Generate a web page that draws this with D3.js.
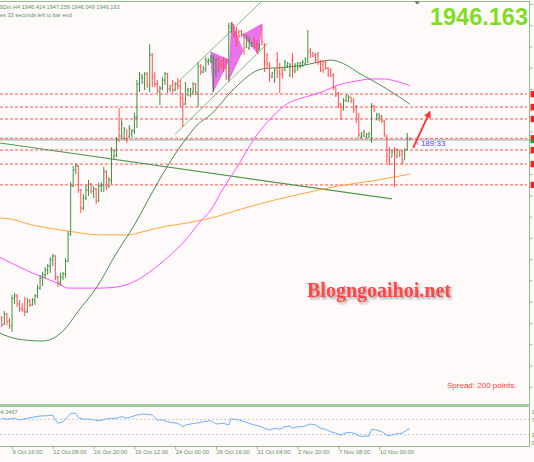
<!DOCTYPE html>
<html>
<head>
<meta charset="utf-8">
<script src="https://cdn.jsdelivr.net/npm/d3@7"></script>
<style>
  html, body { margin: 0; padding: 0; background: #fffafa; }
  svg { display: block; }
</style>
</head>
<body>
<div id="wrapper"></div>
<script>
// H4 bars, [open, high, low, close]
const bars = [
  [1862.3,1863.3,1858.1,1859.0],[1859.5,1865.6,1859.0,1864.2],[1864.2,1864.7,1859.0,1860.5],[1860.9,1862.3,1857.2,1858.6],
  [1858.6,1873.2,1855.8,1871.7],[1871.7,1874.1,1868.9,1872.7],[1872.7,1873.6,1867.5,1868.9],[1868.9,1870.8,1865.2,1866.6],
  [1867.0,1869.4,1865.2,1866.1],[1866.1,1872.2,1863.3,1865.2],[1865.2,1871.7,1864.7,1870.3],[1870.3,1871.3,1867.5,1868.5],
  [1868.5,1871.7,1868.0,1870.8],[1870.8,1873.6,1868.5,1872.7],[1872.7,1877.9,1871.7,1876.4],[1876.4,1882.6,1875.5,1881.1],
  [1881.1,1884.0,1877.4,1882.6],[1882.6,1886.3,1880.7,1884.9],[1884.9,1887.7,1882.6,1886.8],[1886.8,1891.0,1883.5,1889.6],
  [1889.6,1892.4,1886.8,1891.5],[1891.5,1891.9,1880.2,1881.6],[1881.6,1882.1,1876.9,1878.8],[1878.8,1883.5,1877.4,1881.6],
  [1881.6,1884.0,1880.2,1883.0],[1883.0,1890.5,1881.1,1889.1],[1889.1,1903.2,1888.7,1901.8],[1901.8,1926.3,1900.9,1924.4],
  [1924.4,1933.8,1923.9,1931.9],[1931.9,1935.2,1930.0,1933.8],[1933.8,1934.3,1921.1,1922.5],[1922.5,1923.0,1911.7,1914.0],
  [1914.0,1920.6,1913.1,1918.7],[1918.7,1924.9,1917.8,1922.5],[1922.5,1927.2,1919.7,1925.3],[1925.3,1925.8,1920.6,1922.0],
  [1922.0,1924.4,1918.7,1923.0],[1923.0,1923.4,1915.9,1917.3],[1917.3,1925.8,1916.9,1924.4],[1924.4,1926.3,1921.6,1924.9],
  [1924.9,1933.3,1921.6,1931.0],[1931.0,1931.9,1922.5,1924.4],[1924.4,1928.6,1923.4,1927.2],[1927.2,1942.7,1925.3,1941.3],
  [1938.5,1941.8,1936.6,1940.8],[1939.0,1947.4,1938.0,1946.0],[1951.6,1961.0,1945.1,1947.9],[1947.9,1955.4,1946.9,1953.5],
  [1946.9,1952.1,1946.0,1951.2],[1950.7,1950.7,1944.6,1946.0],[1947.4,1953.1,1946.9,1951.6],[1948.8,1951.2,1947.4,1950.2],
  [1950.2,1958.7,1948.8,1956.8],[1956.8,1974.2,1951.6,1972.3],[1972.3,1978.0,1968.6,1976.6],[1975.1,1977.0,1972.3,1975.6],
  [1973.3,1978.0,1969.5,1977.0],[1977.0,1978.0,1970.4,1972.3],[1971.4,1991.1,1968.6,1986.0],[1986.0,1986.9,1970.9,1975.1],
  [1976.1,1978.0,1970.9,1972.3],[1972.3,1974.2,1968.1,1969.5],[1968.6,1971.4,1962.5,1970.4],[1970.4,1975.6,1969.5,1974.2],
  [1974.2,1978.0,1971.9,1977.0],[1977.0,1977.5,1968.1,1970.0],[1970.0,1971.9,1968.6,1971.4],[1971.9,1974.2,1968.1,1969.5],
  [1969.5,1973.3,1969.0,1972.3],[1972.3,1975.1,1969.5,1971.4],[1971.4,1974.2,1961.5,1965.7],[1965.7,1968.1,1952.1,1962.9],
  [1962.9,1973.3,1962.5,1971.4],[1969.5,1970.4,1966.7,1970.0],[1967.2,1970.4,1966.2,1970.0],[1968.6,1973.3,1967.2,1972.3],
  [1972.3,1972.8,1967.2,1968.6],[1967.6,1982.7,1961.5,1980.8],[1980.8,1981.7,1976.6,1978.0],[1978.0,1980.8,1977.5,1979.8],
  [1978.9,1985.0,1978.0,1983.6],[1982.7,1984.5,1981.3,1983.6],[1983.1,1986.0,1982.2,1985.0],[1982.7,1986.0,1968.6,1983.6],
  [1978.0,1984.5,1975.6,1983.6],[1984.5,1985.0,1978.0,1979.8],[1982.7,1983.6,1979.8,1980.8],[1983.6,1985.0,1978.0,1979.8],
  [1979.8,1984.5,1974.2,1976.1],[1975.1,2001.0,1973.3,1999.6],[1998.6,2001.5,1996.3,2000.5],[2000.1,2000.5,1994.4,1995.8],
  [1996.3,1999.1,1989.7,1992.1],[1996.8,1997.7,1993.9,1994.9],[1997.2,1997.7,1994.4,1995.3],[1994.9,1996.3,1986.0,1989.2],
  [1989.7,1995.3,1989.2,1993.9],[1989.2,1994.4,1988.3,1993.0],[1990.2,1992.1,1989.7,1991.6],[1993.0,1993.9,1989.2,1990.2],
  [1991.6,1993.0,1986.9,1988.3],[1988.8,1991.6,1988.3,1990.6],[1993.9,2000.1,1990.6,1992.1],[1990.6,1991.6,1978.0,1982.7],
  [1986.0,1986.9,1979.8,1981.7],[1980.8,1982.7,1973.3,1976.1],[1975.6,1978.0,1975.1,1977.5],[1974.2,1979.8,1972.8,1978.9],
  [1983.6,1987.4,1975.1,1978.0],[1979.8,1982.2,1968.1,1977.0],[1978.9,1979.8,1975.1,1976.6],[1978.9,1983.6,1978.4,1982.7],
  [1980.8,1982.7,1979.8,1982.2],[1976.6,1982.2,1975.6,1981.3],[1983.6,1986.9,1975.1,1978.9],[1978.0,1982.2,1977.5,1981.3],
  [1978.9,1982.7,1978.9,1982.2],[1980.3,1982.7,1979.8,1982.2],[1980.8,1983.6,1980.3,1982.7],[1981.7,1985.0,1981.3,1984.1],
  [1982.7,1997.7,1982.2,1987.4],[1988.3,1989.2,1984.5,1986.0],[1986.9,1987.4,1985.0,1985.5],[1986.0,1986.9,1982.2,1983.6],
  [1986.4,1987.4,1981.3,1982.7],[1982.7,1983.6,1978.0,1978.9],[1981.7,1983.6,1977.5,1978.9],[1982.7,1983.6,1978.9,1979.8],
  [1979.8,1980.3,1975.6,1976.6],[1978.9,1979.8,1975.6,1976.1],[1976.6,1977.5,1969.5,1970.9],[1970.9,1970.9,1966.2,1967.2],
  [1968.1,1968.6,1961.0,1962.9],[1962.9,1963.4,1955.4,1957.3],[1960.1,1965.7,1960.1,1964.8],[1964.3,1967.2,1963.9,1966.7],
  [1964.3,1967.2,1963.9,1966.2],[1966.2,1966.2,1963.4,1964.3],[1965.3,1965.7,1958.7,1960.1],[1961.5,1962.5,1954.0,1956.3],
  [1957.8,1958.7,1946.9,1948.4],[1947.4,1949.8,1946.9,1948.8],[1947.9,1950.7,1947.4,1949.8],[1947.4,1949.3,1946.9,1948.8],
  [1947.4,1949.8,1946.9,1948.8],[1946.0,1963.4,1944.6,1962.0],[1962.0,1962.5,1959.2,1960.1],[1955.4,1958.7,1955.4,1957.8],
  [1956.3,1958.7,1954.9,1957.3],[1957.3,1957.8,1954.0,1954.9],[1954.9,1955.4,1947.4,1948.8],[1947.9,1948.4,1935.2,1938.5],
  [1941.3,1942.7,1934.3,1936.6],[1938.0,1941.3,1938.0,1940.4],[1941.3,1942.7,1923.9,1939.0],[1938.0,1942.2,1937.5,1941.3],
  [1941.3,1941.3,1938.0,1939.0],[1940.4,1941.3,1934.3,1935.7],[1936.6,1942.2,1936.6,1941.3],[1941.3,1949.3,1941.3,1947.4],
  [1946.414,1947.259,1946.049,1946.163]
];

// moving averages, [bar index, price]
const maSlow = [[-1,1909.1],[0,1909.3],[13,1905.8],[26,1903.2],[39,1901.4],[50,1901.4],[55,1902.8],[65,1905.6],[70,1906.5],
  [82,1909.3],[94,1913.6],[107,1917.8],[119,1921.1],[132,1924.4],[145,1926.7],[154,1928.6],[160,1930.0]];
const maMid = [[-1,1891.0],[12,1883.5],[22,1878.6],[26,1876.4],[39,1876.4],[45,1876.9],[52,1879.5],[58,1884.0],[65,1890.8],
  [71,1897.6],[78,1907.9],[82,1913.1],[86,1921.6],[93,1934.7],[99,1946.7],[106,1956.8],[112,1963.1],[119,1966.2],
  [126,1968.8],[132,1971.9],[139,1973.7],[145,1974.7],[150,1974.7],[155,1973.5],[160,1971.6]];
const maFast = [[-1,1855.3],[6,1852.5],[16,1851.5],[24,1856.2],[30,1865.6],[37,1876.4],[45,1892.9],[52,1906.1],[58,1919.2],
  [65,1933.8],[71,1944.6],[77,1953.5],[82,1958.0],[91,1970.0],[102,1979.4],[112,1980.3],[119,1981.3],[126,1983.1],
  [129,1983.6],[135,1981.3],[140,1977.5],[145,1974.2],[151,1970.0],[160,1962.9]];

// RSI(14), [bar index, value]
const rsi = [[0,72.9],[2,70.3],[5,72.9],[7,68.4],[10,72.9],[12,75.5],[15,78.9],[18,79.7],[20,81.6],[21,68.4],[22,59.7],
  [24,63.9],[26,77.1],[27,86.1],[29,86.1],[30,75.0],[32,70.3],[34,71.1],[36,68.4],[38,66.6],[41,71.1],[43,72.9],[45,72.9],
  [47,77.1],[49,72.9],[51,77.1],[53,81.6],[55,84.2],[57,83.4],[59,81.6],[61,68.4],[63,68.4],[65,63.9],[67,61.3],[69,59.7],
  [71,50.8],[72,55.3],[74,57.9],[76,59.7],[79,63.9],[81,65.8],[82,66.6],[84,57.9],[87,59.7],[89,55.3],[90,72.9],[91,70.3],
  [93,68.4],[95,63.9],[97,59.7],[99,55.3],[101,52.6],[103,46.6],[105,42.1],[107,46.6],[109,43.9],[111,50.8],[113,52.6],
  [114,46.6],[116,50.8],[118,50.8],[120,55.3],[121,57.9],[123,55.3],[125,46.6],[127,43.9],[129,37.6],[131,33.4],[133,28.9],
  [135,35.0],[137,36.1],[139,30.8],[141,24.5],[142,26.3],[144,26.3],[145,43.9],[147,42.1],[149,37.6],[151,28.9],[152,27.1],
  [154,30.8],[156,33.4],[157,33.4],[159,43.9],[160,44.3467]];
const rsiLevels = [70, 30];
const rsiTicks = [100, 70, 30, 0];

// time scale labels every 16 bars
const timeIdx = [4, 20, 36, 52, 68, 84, 100, 116, 132, 148];
const timeLabels = ["9 Oct 16:00", "12 Oct 08:00", "16 Oct 20:00", "19 Oct 12:00", "24 Oct 00:00",
                    "26 Oct 16:00", "31 Oct 04:00", "2 Nov 20:00", "7 Nov 08:00", "10 Nov 00:00"];

// horizontal levels (red dotted)
const levels = [1967.6, 1961.5, 1955.9, 1946.8, 1941.3, 1934.7, 1924.9];
const priceTicks = d3.range(1830, 2011, 10);

// drawn objects, [bar index, price]
const trendLine = [[-0.7, 1944.6], [153, 1918.3]];
const channelUp = [[68.3, 1972.3], [102, 2011.3]];
const channelDown = [[68.0, 1948.8], [104.4, 1991.6]];
const patternA = [[82.0, 1987.4], [89.1, 1983.6], [82.8, 1968.6]];
const patternB = [[89.0, 1974.2], [90.2, 2001.5], [94.5, 1988.0]];
const patternC = [[94.5, 1995.5], [102.0, 2000.5], [100.5, 1986.5]];
const arrow = [[161.3, 1942.3], [167.5, 1958.3]];

const symbolHeader = "XAUUSDm,H4  1946.414 1947.259 1946.049 1946.163";
const timerHeader = "189 minutes 33 seconds left to bar end";
const rsiHeader = "RSI(14) 44.3467";
const bid = 1946.163;

const W = 534, H = 462;
const fg = "#8fbf8f", txt = "#5e935e";
const upColor = "#3f903f", downColor = "#ff4d4d";

const svg = d3.select("#wrapper").append("svg")
    .attr("width", W).attr("height", H)
    .style("font-family", "'Liberation Sans', Arial, sans-serif");

svg.append("rect").attr("width", W).attr("height", H).attr("fill", "#fffafa");

const x = d3.scaleLinear().domain([0, bars.length - 1]).range([1.8, 409.8]);
const y = d3.scaleLinear().domain([1821.9, 2010.9]).range([404, 2]);
const yR = d3.scaleLinear().domain([0, 100]).range([446, 408]);

const defs = svg.append("defs");
defs.append("clipPath").attr("id", "mainClip").append("rect")
    .attr("x", 0).attr("y", 2).attr("width", 529).attr("height", 402);
defs.append("clipPath").attr("id", "rsiClip").append("rect")
    .attr("x", 0).attr("y", 407).attr("width", 529).attr("height", 39);
defs.append("marker").attr("id", "head").attr("viewBox", "0 0 10 10")
    .attr("refX", 5).attr("refY", 5).attr("markerWidth", 4).attr("markerHeight", 4)
    .attr("orient", "auto")
    .append("path").attr("d", "M0,0L10,5L0,10z").attr("fill", "#ff3030");
const shadow = defs.append("filter").attr("id", "shadow")
    .attr("x", "-10%").attr("y", "-30%").attr("width", "120%").attr("height", "160%");
shadow.append("feDropShadow").attr("dx", 1.5).attr("dy", 2).attr("stdDeviation", 1)
    .attr("flood-color", "#555").attr("flood-opacity", 0.55);

const main = svg.append("g").attr("clip-path", "url(#mainClip)");
const line = d3.line().x(d => x(d[0])).y(d => y(d[1]));

// levels and bid line
main.selectAll(".level").data(levels).join("line")
    .attr("x1", 0).attr("x2", 527)
    .attr("y1", d => y(d)).attr("y2", d => y(d))
    .attr("stroke", "#ff5050").attr("stroke-width", 1).attr("stroke-dasharray", "3,2");

main.append("line")
    .attr("x1", 0).attr("x2", 529)
    .attr("y1", y(bid)).attr("y2", y(bid))
    .attr("stroke", "#c4c4c4").attr("stroke-width", 2);

// harmonic pattern
[patternA, patternB, patternC].forEach(p => {
    main.append("path")
        .attr("d", line(p) + "Z")
        .attr("fill", "#ea72ea").attr("stroke", "#e060e0").attr("stroke-width", 0.8);
});

// trend / channel lines
main.append("path").attr("d", line(trendLine)).attr("stroke", "#4f9a4f").attr("stroke-width", 1.2).attr("fill", "none");
main.append("path").attr("d", line(channelUp)).attr("stroke", "#7cbf7c").attr("fill", "none");
main.append("path").attr("d", line(channelDown)).attr("stroke", "#7cbf7c").attr("fill", "none");

// moving averages
const curve = d3.line().x(d => x(d[0])).y(d => y(d[1])).curve(d3.curveMonotoneX);
main.append("path").attr("d", curve(maSlow)).attr("stroke", "#ffa53a").attr("fill", "none");
main.append("path").attr("d", curve(maMid)).attr("stroke", "#ff50ff").attr("fill", "none");
main.append("path").attr("d", curve(maFast)).attr("stroke", "#4a8f4a").attr("fill", "none");

// OHLC bars
const bar = main.append("g").selectAll("g").data(bars).join("g")
    .attr("stroke", d => d[3] >= d[0] ? upColor : downColor)
    .attr("stroke-width", 1);
bar.append("line")
    .attr("x1", (d, i) => x(i)).attr("x2", (d, i) => x(i))
    .attr("y1", d => y(d[1])).attr("y2", d => y(d[2]));
bar.append("line")
    .attr("x1", (d, i) => x(i) - 1.1).attr("x2", (d, i) => x(i))
    .attr("y1", d => y(d[0])).attr("y2", d => y(d[0]));
bar.append("line")
    .attr("x1", (d, i) => x(i)).attr("x2", (d, i) => x(i) + 1.1)
    .attr("y1", d => y(d[3])).attr("y2", d => y(d[3]));

// arrow
main.append("path").attr("d", line(arrow))
    .attr("stroke", "#ff3030").attr("stroke-width", 1.8).attr("fill", "none")
    .attr("marker-end", "url(#head)");

// bar timer
svg.append("text")
    .attr("x", 416).attr("y", y(bid) + 6.5)
    .attr("font-size", 8).attr("fill", "#4848ff")
    .text("\u2039 189:33");

// watermark
svg.append("text")
    .attr("x", 307).attr("y", 297)
    .attr("font-size", 20).attr("font-weight", "bold")
    .style("font-family", "'Liberation Serif', 'Times New Roman', serif")
    .attr("fill", "#ff4646").attr("filter", "url(#shadow)")
    .text("Blogngoaihoi.net");

svg.append("text")
    .attr("x", 447).attr("y", 388)
    .attr("font-size", 8).attr("fill", "#ff3a3a")
    .text("Spread: 200 points.");

// big price
svg.append("text")
    .attr("x", 528).attr("y", 25).attr("text-anchor", "end")
    .attr("font-size", 23.5).attr("font-weight", "bold").attr("fill", "#7fde22")
    .text(d3.format(".3f")(bid));

// header lines cut at the left edge, as in the terminal window
function cutText(full, hidden, xVis, yBase, size) {
    const t = svg.append("text").attr("y", yBase).attr("font-size", size).attr("fill", txt).text(full);
    const w = t.node().getSubStringLength(0, hidden.length);
    t.attr("x", xVis - w);
}
cutText(symbolHeader, "XAUU", -1, 8.5, 5.6);
cutText(timerHeader, "189 minut", 0, 17.3, 5.6);
cutText(rsiHeader, "RSI(14) 4", 0.5, 413.5, 5.6);

// frame
svg.append("line").attr("x1", 0).attr("x2", 529.5).attr("y1", 1.5).attr("y2", 1.5).attr("stroke", fg);
svg.append("line").attr("x1", 529.5).attr("x2", 529.5).attr("y1", 1).attr("y2", 447).attr("stroke", fg);
svg.append("rect").attr("x", 0).attr("y", 404).attr("width", 530).attr("height", 3).attr("fill", "#9fca9f");
svg.append("line").attr("x1", 0).attr("x2", 529.5).attr("y1", 446.5).attr("y2", 446.5).attr("stroke", fg);
svg.append("path").attr("d", "M414.5,1.5L420,1.5L417.2,4.5Z").attr("fill", "#5f6f6f");

// price axis: only tick marks fall inside the window
const pAxis = svg.append("g").attr("transform", "translate(529.5,0)")
    .call(d3.axisRight(y).tickValues(priceTicks).tickSize(3).tickFormat(() => ""));
pAxis.select(".domain").remove();
pAxis.selectAll("line").attr("stroke", fg);

// level price labels
svg.selectAll(".lvlbox").data(levels).join("rect")
    .attr("x", 530.5).attr("width", 4).attr("y", d => y(d) - 3.2).attr("height", 6.4)
    .attr("fill", "#ff1e1e");
svg.append("rect").attr("x", 530.5).attr("width", 4).attr("y", y(bid) + 0.5).attr("height", 3)
    .attr("fill", "#2fa02f");

// RSI pane
const rsiG = svg.append("g").attr("clip-path", "url(#rsiClip)");
rsiG.selectAll(".rl").data(rsiLevels).join("line")
    .attr("x1", 0).attr("x2", 529).attr("y1", d => yR(d)).attr("y2", d => yR(d))
    .attr("stroke", "#c8c8c8").attr("stroke-dasharray", "2,2");
rsiG.append("path")
    .attr("d", d3.line().x(d => x(d[0])).y(d => yR(d[1]))(rsi))
    .attr("stroke", "#6cb0f6").attr("fill", "none");

const rAxis = svg.append("g").attr("transform", "translate(529.5,0)")
    .call(d3.axisRight(yR).tickValues(rsiTicks).tickSize(0).tickPadding(2));
rAxis.select(".domain").remove();
rAxis.selectAll("text").attr("fill", txt).attr("font-size", 5.8)
    .attr("dy", d => d === 100 ? "0.95em" : d === 0 ? "-0.2em" : "0.32em");

// time axis
const tAxis = svg.append("g").attr("transform", "translate(0,446.5)")
    .call(d3.axisBottom(x).tickValues(timeIdx).tickSize(3).tickFormat((d, i) => timeLabels[i]));
tAxis.select(".domain").remove();
tAxis.selectAll("line").attr("stroke", fg);
tAxis.selectAll("text")
    .attr("fill", txt).attr("font-size", 5.8)
    .attr("text-anchor", "start").attr("x", 0).attr("dy", "0.3em").attr("y", 6);
</script>
</body>
</html>
